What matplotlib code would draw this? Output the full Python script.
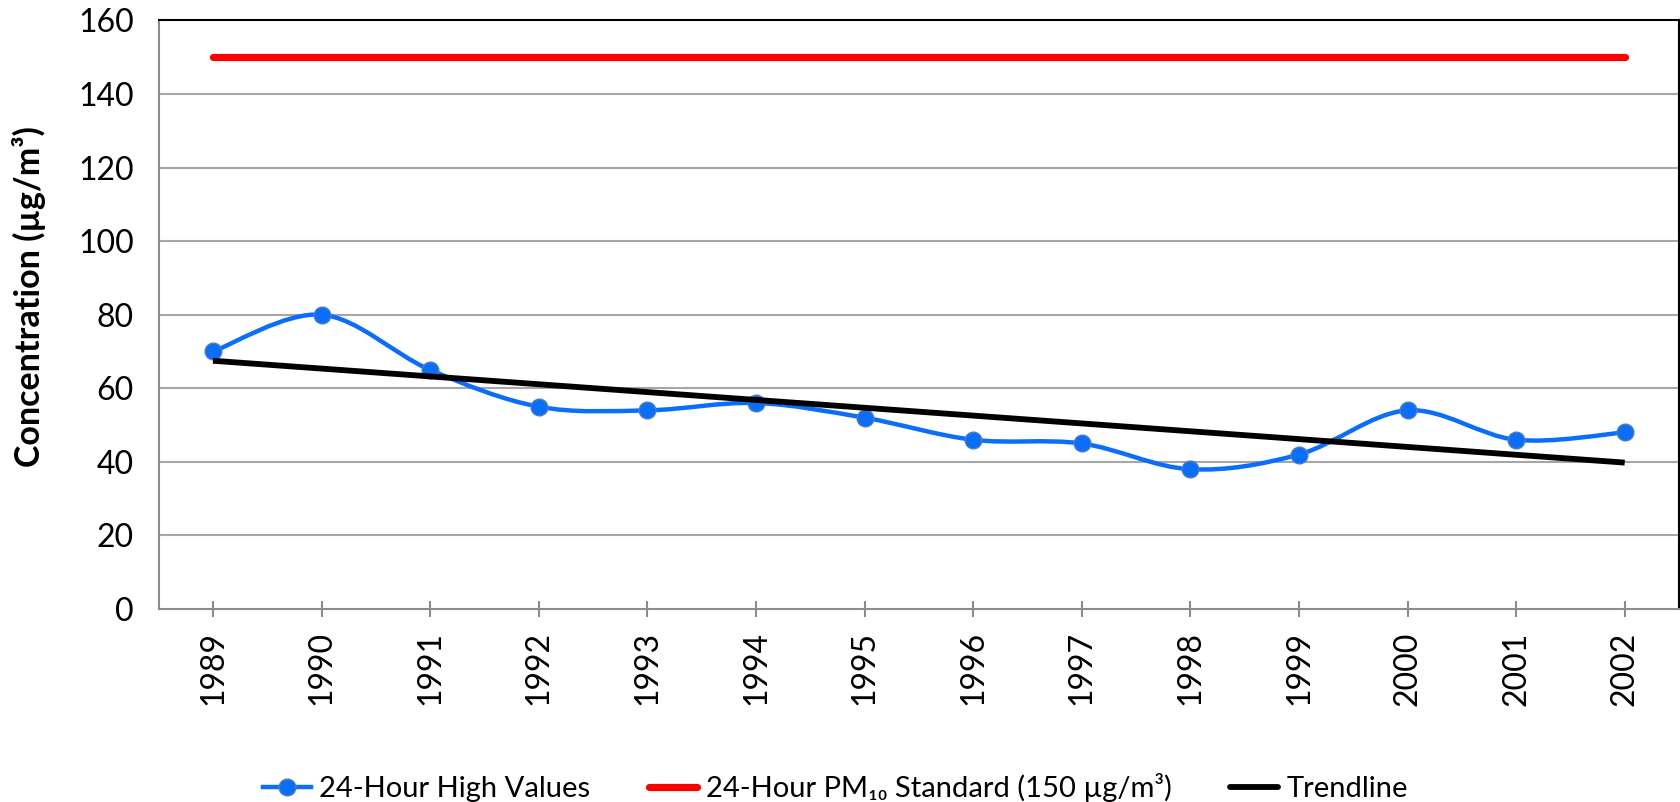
import numpy as np
import matplotlib
matplotlib.use("Agg")
import matplotlib.pyplot as plt
from matplotlib.path import Path
from matplotlib.patches import PathPatch
from matplotlib.lines import Line2D

plt.rcParams['font.family'] = ['Lato', 'DejaVu Sans']

# --- data ---
years = ['1989', '1990', '1991', '1992', '1993', '1994', '1995',
         '1996', '1997', '1998', '1999', '2000', '2001', '2002']
high_values = [70, 80, 65, 55, 54, 56, 52, 46, 45, 38, 42, 54, 46, 48]
standard = 150
y_ticks = [0, 20, 40, 60, 80, 100, 120, 140, 160]

BLUE = '#0A6EFA'
RED = '#FF0000'
GRID = '#A6A6A6'
AXIS_GRAY = '#8C8C8C'
MARKER_EDGE = '#4A7EBB'


def smooth_path(xs, ys):
    """Catmull-Rom style bezier path through the points (like Excel's smoothed line)."""
    pts = np.column_stack([xs, ys]).astype(float)
    n = len(pts)
    verts = [pts[0]]
    codes = [Path.MOVETO]
    for i in range(n - 1):
        p0 = pts[i - 1] if i > 0 else pts[i]
        p1 = pts[i]
        p2 = pts[i + 1]
        p3 = pts[i + 2] if i + 2 < n else pts[i + 1]
        c1 = p1 + (p2 - p0) / 6.0
        c2 = p2 - (p3 - p1) / 6.0
        verts += [c1, c2, p2]
        codes += [Path.CURVE4] * 3
    return Path(verts, codes)


x = np.arange(len(years))
y = np.array(high_values, dtype=float)

fig = plt.figure(figsize=(16.81, 8.02), dpi=100)
ax = fig.add_axes([0.0944, 0.2406, 0.9044, 0.734])

# gridlines
for t in y_ticks[1:-1]:
    ax.axhline(t, color=GRID, lw=1.5, zorder=0)

# standard line
ax.plot([x[0], x[-1]], [standard, standard], color=RED, lw=5.2,
        solid_capstyle='round', zorder=3)

# smoothed high values + markers
ax.add_patch(PathPatch(smooth_path(x, y), facecolor='none', edgecolor=BLUE,
                       lw=3.2, capstyle='round', zorder=4))
ax.plot(x, y, ls='none', marker='o', ms=12, mfc=BLUE, mec=MARKER_EDGE,
        mew=1.0, zorder=5)

# linear trendline (drawn on top of the series, as in the reference)
slope, icpt = np.polyfit(x, y, 1)
ax.plot([x[0], x[-1]], [icpt, icpt + slope * x[-1]], color='black', lw=4.2,
        solid_capstyle='butt', zorder=6)

ax.set_xlim(-0.5, len(years) - 0.5)
ax.set_ylim(0, 160)
ax.set_yticks(y_ticks)
ax.set_xticks(x)
ax.set_xticklabels(years, rotation=90)
ax.tick_params(axis='y', length=0, labelsize=23, pad=18)
ax.tick_params(axis='x', direction='inout', length=12, width=1.5,
               color=AXIS_GRAY, labelsize=23, pad=10)

for side in ('left', 'bottom'):
    ax.spines[side].set_color(AXIS_GRAY)
    ax.spines[side].set_linewidth(1.5)
for side in ('top', 'right'):
    ax.spines[side].set_color('black')
    ax.spines[side].set_linewidth(1.5)

ax.set_ylabel('Concentration (µg/m³)', fontsize=24.5, fontweight='bold')
ax.yaxis.set_label_coords(-0.074, 0.53)

handles = [
    Line2D([], [], color=BLUE, lw=3.2, marker='o', ms=12, mfc=BLUE, mec=MARKER_EDGE),
    Line2D([], [], color=RED, lw=5.2, solid_capstyle='round'),
    Line2D([], [], color='black', lw=4.2, solid_capstyle='round'),
]
labels = ['24-Hour High Values', '24-Hour PM₁₀ Standard (150 µg/m³)', 'Trendline']
fig.legend(handles, labels, loc='center', bbox_to_anchor=(0.497, 0.018), ncol=3,
           frameon=False, fontsize=21, handlelength=1.65, handletextpad=0.3,
           columnspacing=2.0)

fig.savefig('out.png', dpi=100)
